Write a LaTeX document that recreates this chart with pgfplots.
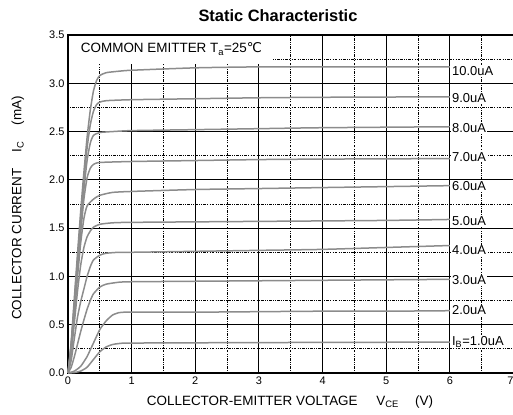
\documentclass[border=0pt]{standalone}
\usepackage{fontspec}
\setmainfont{Liberation Sans}
\newfontfamily\dejavu{DejaVu Sans}
\usepackage{pgfplots}
\pgfplotsset{compat=1.18}

\definecolor{curvegray}{gray}{0.55}
\tikzset{
  minorline/.style={black, line width=0.8bp,
    dash pattern=on 0.9bp off 1.2bp on 0.9bp off 1.2bp on 2.8bp off 1.2bp},
  curve/.style={curvegray, line width=1.5bp, line join=round, smooth, tension=0.35},
  ib/.style={anchor=west, fill=white, inner sep=0.8bp, font=\fontsize{13}{14}\selectfont},
}

\begin{document}
\begin{tikzpicture}
\path[use as bounding box] (-68bp,-42bp) rectangle (445bp,373bp);
\begin{axis}[
  scale only axis,
  width=445.5bp, height=338bp,
  xmin=0, xmax=7, ymin=0, ymax=3.5,
  xtick={0,1,...,7},
  xticklabels={0,1,2,3,4,5,6,\llap{7}},
  ytick={0,0.5,...,3.5},
  minor x tick num=1,
  minor y tick num=1,
  major tick length=0pt, minor tick length=0pt,
  grid=both,
  major grid style={black, line width=1.1bp},
  minor grid style={minorline},
  axis line style={black, line width=1.4bp},
  /pgf/number format/assume math mode=true,
  tick label style={font=\fontsize{11}{12}\selectfont},
  yticklabel style={/pgf/number format/.cd, fixed, fixed zerofill, precision=1},
  every tick label/.append style={text=black},
  clip=false,
]
% collector current curves, one per base current
\addplot[curve] coordinates {(0,0) (0.05,0.32) (0.1,0.78) (0.15,1.24) (0.2,1.68) (0.25,2.08) (0.3,2.44) (0.35,2.72) (0.4,2.92) (0.45,3.03) (0.5,3.08) (0.6,3.11) (0.8,3.125) (1,3.135) (2,3.16) (3,3.17) (4,3.17) (5,3.17) (6,3.17)};
\addplot[curve] coordinates {(0,0) (0.05,0.3) (0.1,0.74) (0.15,1.18) (0.2,1.6) (0.25,2.0) (0.3,2.33) (0.35,2.57) (0.4,2.71) (0.45,2.78) (0.5,2.805) (0.6,2.82) (1,2.83) (2,2.84) (3,2.85) (4,2.855) (6,2.86)};
\addplot[curve] coordinates {(0,0) (0.05,0.28) (0.1,0.7) (0.15,1.12) (0.2,1.52) (0.25,1.9) (0.3,2.2) (0.35,2.38) (0.4,2.46) (0.5,2.49) (0.7,2.5) (1,2.51) (2,2.52) (3,2.53) (4,2.54) (6,2.55)};
\addplot[curve] coordinates {(0,0) (0.05,0.26) (0.1,0.66) (0.15,1.06) (0.2,1.45) (0.25,1.8) (0.3,2.02) (0.35,2.12) (0.4,2.16) (0.5,2.18) (1,2.19) (2,2.2) (3,2.21) (4,2.215) (6,2.22)};
\addplot[curve] coordinates {(0,0) (0.05,0.24) (0.1,0.61) (0.15,1.0) (0.2,1.35) (0.25,1.6) (0.3,1.73) (0.4,1.8) (0.5,1.84) (0.7,1.87) (1,1.88) (2,1.9) (3,1.91) (4,1.92) (5,1.93) (6,1.94)};
\addplot[curve] coordinates {(0,0) (0.05,0.2) (0.1,0.52) (0.15,0.85) (0.2,1.12) (0.25,1.3) (0.3,1.41) (0.35,1.47) (0.4,1.51) (0.5,1.54) (0.7,1.555) (1,1.56) (3,1.57) (5,1.58) (6,1.59)};
\addplot[curve] coordinates {(0,0) (0.05,0.13) (0.1,0.36) (0.15,0.58) (0.2,0.74) (0.25,0.87) (0.3,1.0) (0.35,1.1) (0.4,1.17) (0.5,1.22) (0.6,1.24) (0.8,1.25) (1,1.25) (2,1.26) (3,1.27) (4,1.28) (5,1.3) (6,1.32)};
\addplot[curve] coordinates {(0,0) (0.05,0.06) (0.1,0.17) (0.15,0.3) (0.2,0.43) (0.25,0.55) (0.3,0.66) (0.35,0.75) (0.4,0.82) (0.5,0.89) (0.6,0.92) (0.8,0.94) (1,0.945) (2,0.95) (3,0.955) (4,0.96) (5,0.965) (6,0.97)};
\addplot[curve] coordinates {(0,0) (0.1,0.02) (0.2,0.07) (0.3,0.17) (0.35,0.24) (0.4,0.31) (0.5,0.45) (0.6,0.54) (0.7,0.6) (0.8,0.625) (0.9,0.63) (1,0.63) (2,0.63) (3,0.635) (4,0.64) (5,0.64) (6,0.645)};
\addplot[curve] coordinates {(0,0) (0.1,0.005) (0.2,0.02) (0.3,0.06) (0.4,0.14) (0.5,0.22) (0.6,0.27) (0.7,0.295) (0.8,0.305) (1,0.31) (3,0.315) (6,0.32)};

% condition box in the upper left corner
\fill[white] (axis cs:0.02,3.195) rectangle (axis cs:3.2,3.485);
\node[anchor=west, inner sep=0pt, font=\fontsize{13.5}{14}\selectfont]
  at (axis cs:0.2,3.355) {COMMON EMITTER T\textsubscript{a}=25{\dejavu ℃}};

% base current labels
\node[ib] at (axis cs:6.02,3.13) {10.0uA};
\node[ib] at (axis cs:6.02,2.85) {9.0uA};
\node[ib] at (axis cs:6.02,2.54) {8.0uA};
\node[ib] at (axis cs:6.02,2.24) {7.0uA};
\node[ib] at (axis cs:6.02,1.94) {6.0uA};
\node[ib] at (axis cs:6.02,1.57) {5.0uA};
\node[ib] at (axis cs:6.02,1.27) {4.0uA};
\node[ib] at (axis cs:6.02,0.96) {3.0uA};
\node[ib] at (axis cs:6.02,0.65) {2.0uA};
\node[ib] at (axis cs:6.02,0.325) {I\textsubscript{B}=1.0uA};
\end{axis}

% title and axis labels
\node[font=\bfseries\fontsize{16.5}{18}\selectfont] at (210bp,357bp) {Static Characteristic};
\node[rotate=90, font=\fontsize{13.5}{15}\selectfont] at (-50bp,165bp)
  {COLLECTOR CURRENT\hspace{1.2em}I\textsubscript{C}\hspace{1.2em}(mA)};
\node[font=\fontsize{13.5}{15}\selectfont] at (222bp,-29bp)
  {COLLECTOR-EMITTER VOLTAGE\hspace{1.4em}V\textsubscript{CE}\hspace{1.2em}(V)};
\end{tikzpicture}
\end{document}
